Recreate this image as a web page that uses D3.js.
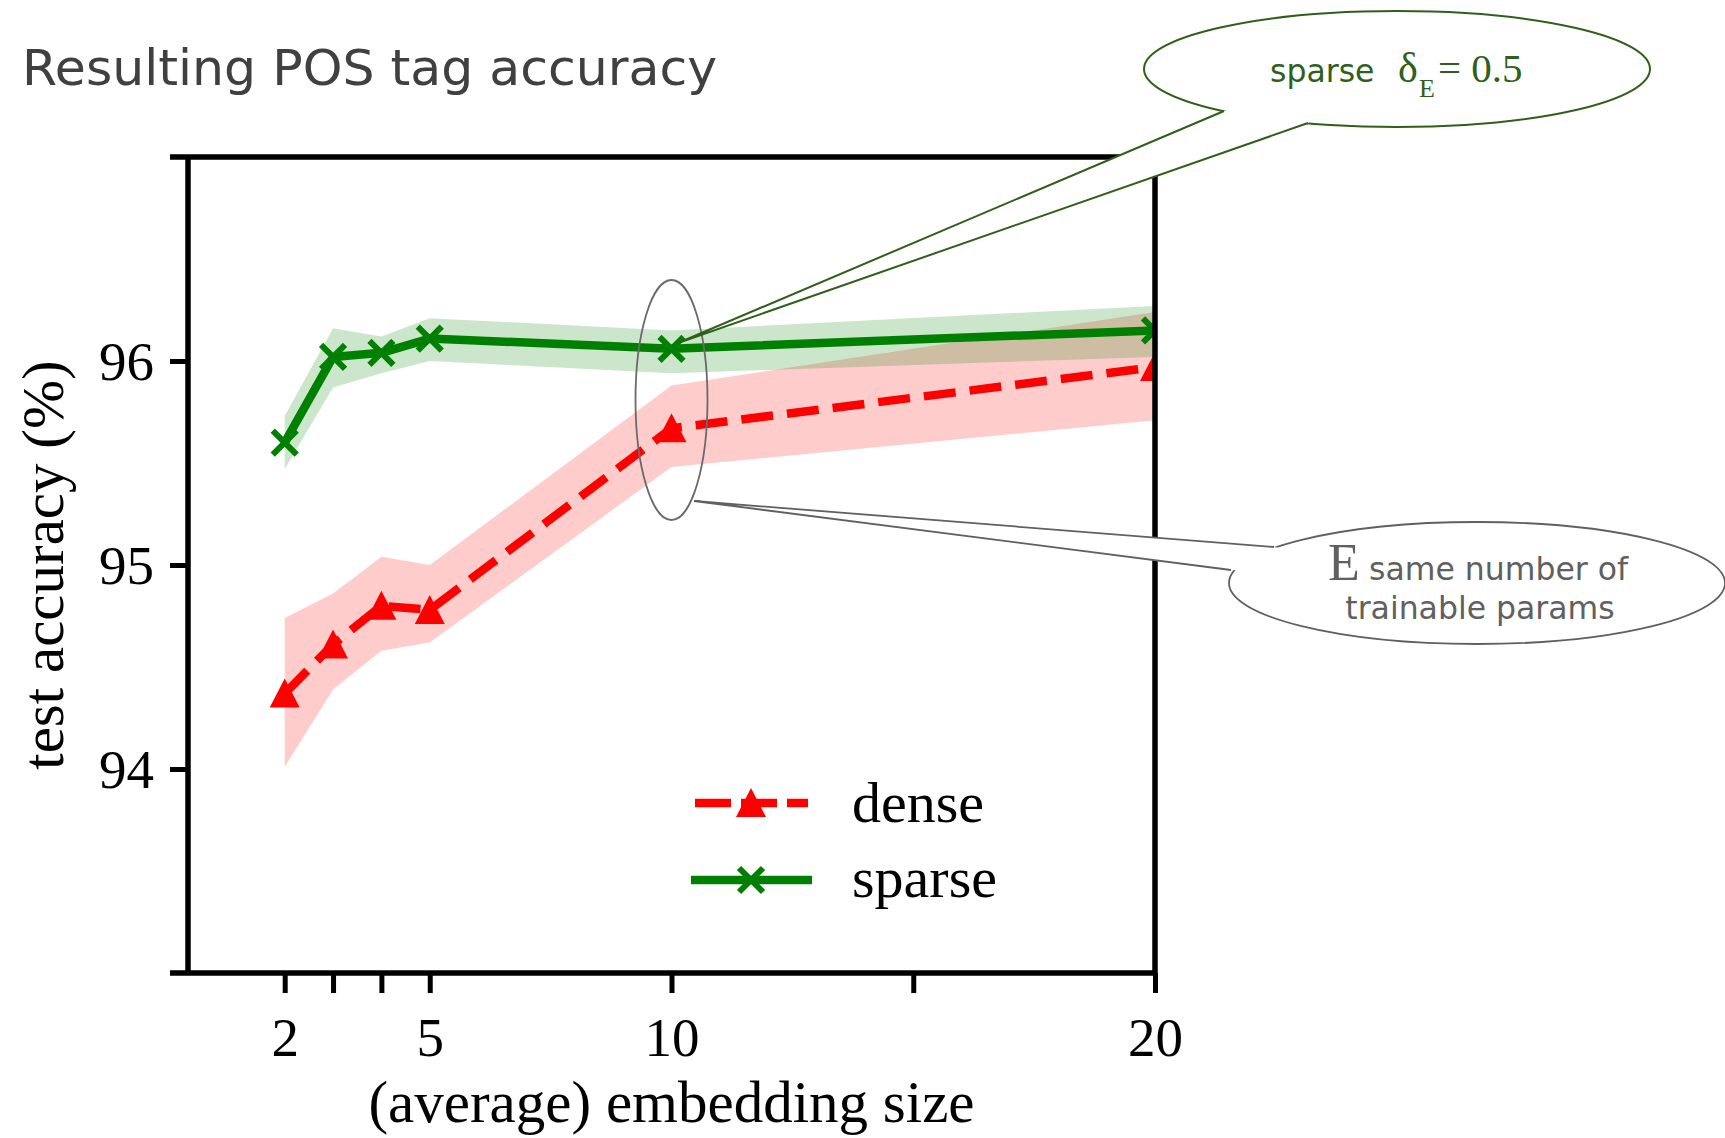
<!DOCTYPE html>
<html>
<head>
<meta charset="utf-8">
<script src="https://cdn.jsdelivr.net/npm/d3@7"></script>
<style>
  body { margin: 0; background: #fff; }
  svg { display: block; }
</style>
</head>
<body>
<div id="chart"></div>
<script>
// values
var sizes = [2, 3, 4, 5, 10, 20];
var denseAcc = [94.37, 94.61, 94.80, 94.78, 95.67, 95.97];
var denseLow = [94.01, 94.39, 94.58, 94.62, 95.48, 95.71];
var denseHigh = [94.74, 94.86, 95.04, 95.00, 95.88, 96.24];
var sparseAcc = [95.60, 96.02, 96.04, 96.11, 96.06, 96.15];
var sparseLow = [95.47, 95.87, 95.94, 96.00, 95.94, 96.02];
var sparseHigh = [95.73, 96.16, 96.12, 96.21, 96.15, 96.27];
var xTicks = [2, 3, 4, 5, 10, 15, 20];
var xTickLabels = ["2", "", "", "5", "10", "", "20"];
var yTicks = [94, 95, 96];

var svgWidth = 1725;
var svgHeight = 1138;

// plot box
var box = { left: 188, right: 1155, top: 157, bottom: 973 };

var serif = "'Liberation Serif', 'Times New Roman', serif";
var sans = "'DejaVu Sans', Verdana, sans-serif";

var svg = d3.select("#chart")
  .append("svg")
  .attr("width", svgWidth)
  .attr("height", svgHeight);

var x = d3.scaleLinear().domain([0, 20]).range([box.left, box.right]);
var y = d3.scaleLinear().domain([93, 97]).range([box.bottom, box.top]);

var dense = sizes.map(function(s, i) {
  return { size: s, acc: denseAcc[i], low: denseLow[i], high: denseHigh[i] };
});
var sparse = sizes.map(function(s, i) {
  return { size: s, acc: sparseAcc[i], low: sparseLow[i], high: sparseHigh[i] };
});

// title
svg.append("text")
  .attr("x", 22)
  .attr("y", 85)
  .attr("font-family", sans)
  .attr("font-size", 50.5)
  .attr("fill", "#404040")
  .text("Resulting POS tag accuracy");

svg.append("clipPath")
  .attr("id", "plotClip")
  .append("rect")
  .attr("x", box.left)
  .attr("y", box.top)
  .attr("width", box.right - box.left)
  .attr("height", box.bottom - box.top);

var plot = svg.append("g").attr("clip-path", "url(#plotClip)");

var band = d3.area()
  .x(d => x(d.size))
  .y0(d => y(d.low))
  .y1(d => y(d.high));

var line = d3.line()
  .x(d => x(d.size))
  .y(d => y(d.acc));

// confidence bands
plot.append("path").datum(dense)
  .attr("d", band)
  .attr("fill", "#ff0000")
  .attr("fill-opacity", 0.2);

plot.append("path").datum(sparse)
  .attr("d", band)
  .attr("fill", "#008000")
  .attr("fill-opacity", 0.2);

// dense line, dashed with triangles
plot.append("path").datum(dense)
  .attr("d", line)
  .attr("fill", "none")
  .attr("stroke", "#ff0000")
  .attr("stroke-width", 8.5)
  .attr("stroke-dasharray", "32,14");

var triangle = "M0,-15L15,14L-15,14Z";
plot.selectAll(".tri")
  .data(dense)
  .enter().append("path")
  .attr("class", "tri")
  .attr("d", triangle)
  .attr("transform", d => `translate(${x(d.size)}, ${y(d.acc)})`)
  .attr("fill", "#ff0000");

// sparse line with crosses
plot.append("path").datum(sparse)
  .attr("d", line)
  .attr("fill", "none")
  .attr("stroke", "#008000")
  .attr("stroke-width", 8.5)
  .attr("stroke-linejoin", "round");

var cross = "M-12,-12L12,12M-12,12L12,-12";
plot.selectAll(".cross")
  .data(sparse)
  .enter().append("path")
  .attr("class", "cross")
  .attr("d", cross)
  .attr("transform", d => `translate(${x(d.size)}, ${y(d.acc)})`)
  .attr("stroke", "#008000")
  .attr("stroke-width", 6)
  .attr("fill", "none");

// axes
var xAxis = d3.axisBottom(x)
  .tickValues(xTicks)
  .tickSize(20)
  .tickPadding(24)
  .tickFormat((d, i) => xTickLabels[i]);

var gx = svg.append("g")
  .attr("transform", `translate(0, ${box.bottom})`)
  .call(xAxis);

var yAxis = d3.axisLeft(y)
  .tickValues(yTicks)
  .tickSize(18)
  .tickPadding(16)
  .tickFormat(d3.format("d"));

var gy = svg.append("g")
  .attr("transform", `translate(${box.left}, 0)`)
  .call(yAxis);

[gx, gy].forEach(function(g) {
  g.select(".domain").remove();
  g.selectAll(".tick line").attr("stroke", "#000").attr("stroke-width", 5);
  g.selectAll(".tick text")
    .attr("font-family", serif)
    .attr("font-size", 55)
    .attr("fill", "#000");
});
gy.selectAll(".tick text").attr("dy", "0.34em");

// frame
var frame = svg.append("g").attr("stroke", "#000").attr("stroke-width", 5.5);
frame.append("line")
  .attr("x1", box.left - 18).attr("x2", box.right)
  .attr("y1", box.top).attr("y2", box.top);
frame.append("line")
  .attr("x1", box.left - 18).attr("x2", box.right + 2)
  .attr("y1", box.bottom).attr("y2", box.bottom);
frame.append("line")
  .attr("x1", box.left).attr("x2", box.left)
  .attr("y1", box.top).attr("y2", box.bottom);
frame.append("line")
  .attr("x1", box.right).attr("x2", box.right)
  .attr("y1", box.top).attr("y2", box.bottom);

// axis labels
svg.append("text")
  .attr("x", x(10))
  .attr("y", 1122)
  .attr("text-anchor", "middle")
  .attr("font-family", serif)
  .attr("font-size", 59)
  .text("(average) embedding size");

svg.append("text")
  .attr("transform", `translate(63, ${y(95)}) rotate(-90)`)
  .attr("text-anchor", "middle")
  .attr("font-family", serif)
  .attr("font-size", 59)
  .text("test accuracy (%)");

// legend
var legend = svg.append("g");
legend.append("line")
  .attr("x1", 695).attr("x2", 808)
  .attr("y1", 803).attr("y2", 803)
  .attr("stroke", "#ff0000")
  .attr("stroke-width", 8.5)
  .attr("stroke-dasharray", "36,10");
legend.append("path")
  .attr("d", triangle)
  .attr("transform", "translate(751, 803)")
  .attr("fill", "#ff0000");
legend.append("text")
  .attr("x", 852).attr("y", 822)
  .attr("font-family", serif)
  .attr("font-size", 58)
  .text("dense");

legend.append("line")
  .attr("x1", 691).attr("x2", 812)
  .attr("y1", 880).attr("y2", 880)
  .attr("stroke", "#008000")
  .attr("stroke-width", 8.5);
legend.append("path")
  .attr("d", cross)
  .attr("transform", "translate(751, 880)")
  .attr("stroke", "#008000")
  .attr("stroke-width", 6);
legend.append("text")
  .attr("x", 852).attr("y", 897)
  .attr("font-family", serif)
  .attr("font-size", 58)
  .text("sparse");

// small ellipse around the x = 10 points
svg.append("ellipse")
  .attr("cx", x(10)).attr("cy", 400)
  .attr("rx", 36).attr("ry", 120)
  .attr("fill", "none")
  .attr("stroke", "#6a6a6a")
  .attr("stroke-width", 1.8);

// speech bubble helper: ellipse, white tail, tail edges
function bubble(cx, cy, rx, ry, b1, b2, apex, color, width) {
  var g = svg.append("g");
  g.append("ellipse")
    .attr("cx", cx).attr("cy", cy)
    .attr("rx", rx).attr("ry", ry)
    .attr("fill", "#fff")
    .attr("stroke", color)
    .attr("stroke-width", width);
  var inset = function(p) {
    return [p[0] + (cx - p[0]) * 0.06, p[1] + (cy - p[1]) * 0.06];
  };
  g.append("path")
    .attr("d", "M" + [apex, b1, inset(b1), inset(b2), b2].map(p => p.join(",")).join("L") + "Z")
    .attr("fill", "#fff");
  g.append("path")
    .attr("d", `M${b1.join(",")}L${apex.join(",")}L${b2.join(",")}`)
    .attr("fill", "none")
    .attr("stroke", color)
    .attr("stroke-width", width)
    .attr("stroke-linejoin", "miter");
  return g;
}

var greenNote = "#2f5f1a";
var gb = bubble(1397, 69, 253, 58, [1224, 111], [1308, 123], [678, 343], greenNote, 2);
gb.append("text")
  .attr("x", 1270).attr("y", 82)
  .attr("font-family", sans)
  .attr("font-size", 31.5)
  .attr("fill", greenNote)
  .text("sparse");
gb.append("text")
  .attr("x", 1398).attr("y", 82)
  .attr("font-family", serif)
  .attr("font-size", 42)
  .attr("fill", greenNote)
  .text("δ");
gb.append("text")
  .attr("x", 1419).attr("y", 97)
  .attr("font-family", serif)
  .attr("font-size", 26)
  .attr("fill", greenNote)
  .text("E");
gb.append("text")
  .attr("x", 1438).attr("y", 82)
  .attr("font-family", serif)
  .attr("font-size", 41)
  .attr("fill", greenNote)
  .text("= 0.5");

var grayNote = "#606060";
var rb = bubble(1477, 583, 248, 61, [1274, 547], [1231, 570], [694, 501], grayNote, 1.8);
rb.append("text")
  .attr("x", 1328).attr("y", 580)
  .attr("font-family", serif)
  .attr("font-size", 52)
  .attr("fill", grayNote)
  .text("E");
rb.append("text")
  .attr("x", 1369).attr("y", 580)
  .attr("font-family", sans)
  .attr("font-size", 31.5)
  .attr("fill", grayNote)
  .text("same number of");
rb.append("text")
  .attr("x", 1480).attr("y", 619)
  .attr("text-anchor", "middle")
  .attr("font-family", sans)
  .attr("font-size", 31.5)
  .attr("fill", grayNote)
  .text("trainable params");
</script>
</body>
</html>
